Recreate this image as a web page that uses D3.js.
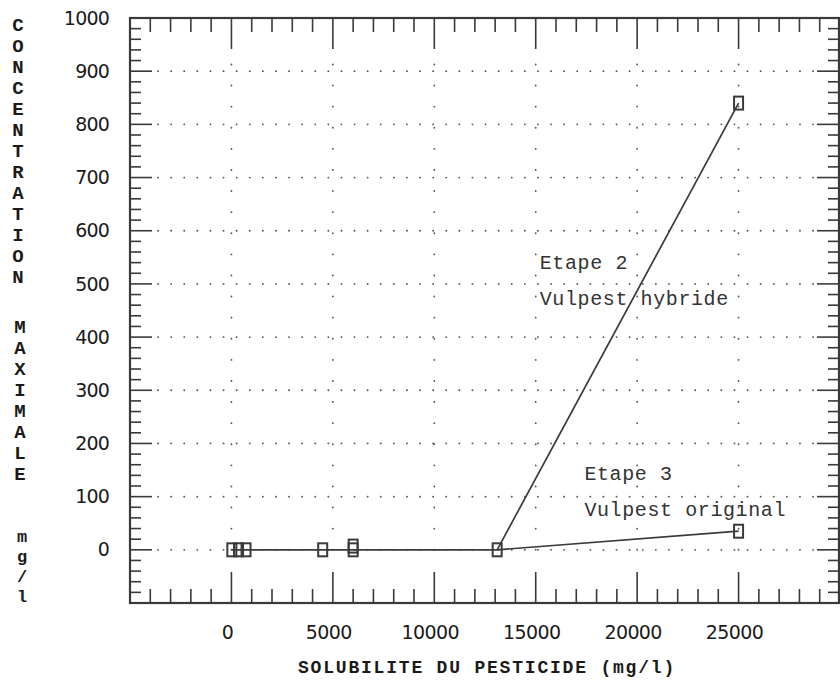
<!DOCTYPE html>
<html>
<head>
<meta charset="utf-8">
<script src="https://cdn.jsdelivr.net/npm/d3@7"></script>
<style>
  body { margin: 0; background: #fff; }
  svg { display: block; }
</style>
</head>
<body>
<svg id="chart"></svg>
<script>
// 1. Data
const yTickLabels = [0, 100, 200, 300, 400, 500, 600, 700, 800, 900, 1000];
const xTickLabels = [0, 5000, 10000, 15000, 20000, 25000];

// pesticides with a low solubility (both steps give ~0)
const lowSolubility = [20, 350, 720, 4500, 6000, 6000, 13100];
const lowConcentration = [0, 0, 0, 0, 0, 7, 0];

// Etape 2 : Vulpest hybride
const hybrideSolubility = [13100, 25000];
const hybrideConcentration = [0, 840];

// Etape 3 : Vulpest original
const originalSolubility = [13100, 25000];
const originalConcentration = [0, 35];

const yTitle1 = "CONCENTRATION";
const yTitle2 = "MAXIMALE";
const yTitle3 = "mg/l";

// 2. Setup
const width = 840,
  height = 686;
const ink = "#3a3a3a";

const svg = d3.select("#chart").attr("width", width).attr("height", height);

const x = d3.scaleLinear().domain([-5000, 30000]).range([130, 840]);
const y = d3.scaleLinear().domain([-100, 1000]).range([603, 18]);

const xMinor = d3.range(-5000, 30001, 1000);
const xMajor = d3.range(-5000, 30001, 5000);
const yMinor = d3.range(-100, 1001, 20);
const yMajor = d3.range(-100, 1001, 100);

// 3. Dotted grid
const grid = svg.append("g").attr("stroke", "#555").attr("stroke-linecap", "round");

grid
  .selectAll(".hgrid")
  .data(yTickLabels.filter((d) => d < 1000))
  .enter()
  .append("line")
  .attr("x1", 158)
  .attr("x2", 816)
  .attr("y1", (d) => y(d))
  .attr("y2", (d) => y(d))
  .attr("stroke-width", 1.8)
  .attr("stroke-dasharray", "0.1 13");

grid
  .selectAll(".vgrid")
  .data(xTickLabels)
  .enter()
  .append("line")
  .attr("x1", (d) => x(d))
  .attr("x2", (d) => x(d))
  .attr("y1", y(0))
  .attr("y2", 52)
  .attr("stroke-width", 1.8)
  .attr("stroke-dasharray", "0.1 21");

// 4. Frame and ticks (all pointing inward)
const axes = svg.append("g").attr("stroke", ink).attr("stroke-width", 1.6);

axes
  .append("rect")
  .attr("x", x(-5000))
  .attr("y", y(1000))
  .attr("width", x(30000) - x(-5000) - 1)
  .attr("height", y(-100) - y(1000))
  .attr("fill", "none")
  .attr("stroke-width", 2.2);

const isMajor = (major, d) => major.includes(d);

// top and bottom
[
  [y(1000), 1],
  [y(-100), -1],
].forEach(([yy, dir]) => {
  axes
    .append("g")
    .selectAll("line")
    .data(xMinor)
    .enter()
    .append("line")
    .attr("x1", (d) => x(d))
    .attr("x2", (d) => x(d))
    .attr("y1", yy)
    .attr("y2", (d) => yy + dir * (isMajor(xMajor, d) ? 31 : 14));
});

// left and right
[
  [x(-5000), 1],
  [x(30000) - 1, -1],
].forEach(([xx, dir]) => {
  axes
    .append("g")
    .selectAll("line")
    .data(yMinor)
    .enter()
    .append("line")
    .attr("y1", (d) => y(d))
    .attr("y2", (d) => y(d))
    .attr("x1", xx)
    .attr("x2", (d) => xx + dir * (isMajor(yMajor, d) ? 22 : 11));
});

// 5. Tick labels
const tickFont = "'DejaVu Sans', sans-serif";

svg
  .append("g")
  .selectAll("text")
  .data(yTickLabels)
  .enter()
  .append("text")
  .attr("x", 109)
  .attr("y", (d) => y(d))
  .attr("dy", "0.35em")
  .attr("text-anchor", "end")
  .attr("font-family", tickFont)
  .attr("font-size", 19)
  .attr("letter-spacing", -0.8)
  .attr("fill", "#1a1a1a")
  .text((d) => d);

svg
  .append("g")
  .selectAll("text")
  .data(xTickLabels)
  .enter()
  .append("text")
  .attr("x", (d) => x(d) - 4)
  .attr("y", 632)
  .attr("dy", "0.35em")
  .attr("text-anchor", "middle")
  .attr("font-family", tickFont)
  .attr("font-size", 19)
  .attr("letter-spacing", -0.6)
  .attr("fill", "#1a1a1a")
  .text((d) => d);

// 6. Axis titles
const monoFont = "'Liberation Mono', 'DejaVu Sans Mono', monospace";

svg
  .append("text")
  .attr("x", 487)
  .attr("y", 667)
  .attr("dy", "0.35em")
  .attr("text-anchor", "middle")
  .attr("font-family", monoFont)
  .attr("font-weight", "bold")
  .attr("font-size", 18)
  .attr("letter-spacing", 1.8)
  .attr("fill", "#1a1a1a")
  .text("SOLUBILITE DU PESTICIDE (mg/l)");

// stacked vertical letters
const stacked = [
  { text: yTitle1, x: 18, y0: 24, step: 21, size: 19 },
  { text: yTitle2, x: 20, y0: 326, step: 21, size: 19 },
  { text: yTitle3, x: 22, y0: 536, step: 20, size: 17 },
];
stacked.forEach((s) => {
  svg
    .append("g")
    .selectAll("text")
    .data(s.text.split(""))
    .enter()
    .append("text")
    .attr("x", s.x)
    .attr("y", (d, i) => s.y0 + i * s.step)
    .attr("dy", "0.35em")
    .attr("text-anchor", "middle")
    .attr("font-family", monoFont)
    .attr("font-weight", "bold")
    .attr("font-size", s.size)
    .attr("fill", "#1a1a1a")
    .text((d) => d);
});

// 7. Lines
const line = d3
  .line()
  .x((d) => x(d[0]))
  .y((d) => y(d[1]));

const lowPts = d3.zip(lowSolubility, lowConcentration).filter((d, i) => lowConcentration[i] === 0);
const hybridePts = d3.zip(hybrideSolubility, hybrideConcentration);
const originalPts = d3.zip(originalSolubility, originalConcentration);

[lowPts, hybridePts, originalPts].forEach((pts) => {
  svg
    .append("path")
    .attr("d", line(pts))
    .attr("fill", "none")
    .attr("stroke", ink)
    .attr("stroke-width", 1.7);
});

// 8. Square markers
const markers = d3
  .zip(lowSolubility, lowConcentration)
  .concat([hybridePts[1], originalPts[1]]);

svg
  .append("g")
  .selectAll("rect")
  .data(markers)
  .enter()
  .append("rect")
  .attr("x", (d) => x(d[0]) - 4.5)
  .attr("y", (d) => y(d[1]) - 6.5)
  .attr("width", 9)
  .attr("height", 13)
  .attr("fill", "none")
  .attr("stroke", ink)
  .attr("stroke-width", 2);

// 9. Annotations
const notes = [
  { text: "Etape 2", sol: 15200, conc: 528 },
  { text: "Vulpest hybride", sol: 15200, conc: 460 },
  { text: "Etape 3", sol: 17400, conc: 131 },
  { text: "Vulpest original", sol: 17400, conc: 64 },
];

svg
  .append("g")
  .selectAll("text")
  .data(notes)
  .enter()
  .append("text")
  .attr("x", (d) => x(d.sol))
  .attr("y", (d) => y(d.conc))
  .attr("font-family", monoFont)
  .attr("font-size", 20)
  .attr("letter-spacing", 0.6)
  .attr("fill", "#333")
  .text((d) => d.text);
</script>
</body>
</html>
